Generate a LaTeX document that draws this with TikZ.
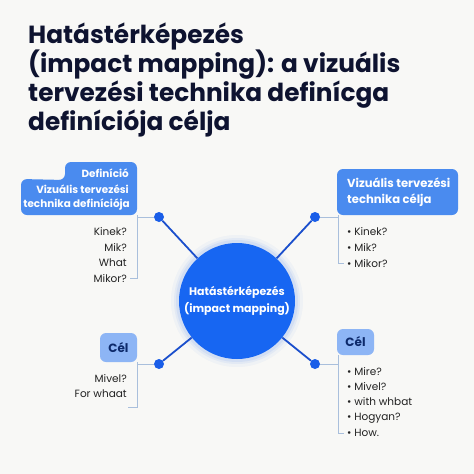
\documentclass[tikz,border=0pt]{standalone}
\usepackage{fontspec}
\setmainfont{Poppins}
\definecolor{bgc}{HTML}{F8F8F6}
\definecolor{titlec}{HTML}{0E1330}
\definecolor{hubblue}{HTML}{1766F2}
\definecolor{boxblue}{HTML}{4A8BEF}
\definecolor{lightbox}{HTML}{8DB5F5}
\definecolor{navy}{HTML}{0D2A6B}
\definecolor{dotblue}{HTML}{1A5EE8}
\definecolor{linkblue}{HTML}{1B4FCC}
\definecolor{thin}{HTML}{A9BFDC}
\definecolor{itemc}{HTML}{222222}
\begin{document}
\begin{tikzpicture}[x=1pt,y=-1pt,
  titletext/.style={anchor=base west, inner sep=0, text=titlec, font=\fontsize{24.8}{29}\selectfont\bfseries},
  boxtext/.style={inner sep=0, text=white, font=\fontsize{10.4}{13}\selectfont\bfseries},
  itemtext/.style={inner sep=0, text=itemc, font=\fontsize{10.5}{13}\selectfont},
  dotnode/.style={circle, fill=dotblue, minimum size=10pt, inner sep=0},
  hubline/.style={draw=linkblue, line width=1.8pt},
  thinline/.style={draw=thin, line width=1pt},
]
\useasboundingbox (0,0) rectangle (474,474);
\fill[bgc] (0,0) rectangle (474,474);

% title
\node[titletext] (t1) at (28,43) {Hatástérképezés};
\node[titletext] (t2) at (28,72) {(impact mapping): a vizuális};
\node[titletext] (t3) at (28,101) {tervezési technika definícga};
\node[titletext] (t4) at (28,130) {definíciója célja};

% hub glow
\foreach \r/\o in {66/0.04,63/0.06,61/0.08}{
  \fill[hubblue, opacity=\o] (237,301) circle (\r);
}
% hub
\node[circle, fill=hubblue, minimum size=116pt, inner sep=0, text=white, align=center,
  font=\fontsize{11}{16.5}\selectfont\bfseries] (hub) at (237,301) {Hatástérképezés\\(impact mapping)};

% dots
\node[dotnode] (dtl) at (159,217) {};
\node[dotnode] (dtr) at (315,217) {};
\node[dotnode] (dbl) at (159,364) {};
\node[dotnode] (dbr) at (315,364) {};

% boxes
\fill[boxblue, rounded corners=6pt] (65,180) -- (65,162) -- (137,162) -- (137,215) -- (21,215) -- (21,179) -- cycle;
\fill[boxblue, rounded corners=6pt] (337,169) rectangle (458,215);
\fill[lightbox, rounded corners=6pt] (100,333) rectangle (137,362);
\fill[lightbox, rounded corners=6pt] (337,329) rectangle (374,355);

% box texts
\node[boxtext, anchor=base east] (btl1) at (129,177) {Definíció};
\node[boxtext, anchor=base east] (btl2) at (129,193) {Vizuális tervezési};
\node[boxtext, anchor=base east] (btl3) at (130,207) {technika definíciója};
\node[boxtext, anchor=base west, font=\fontsize{11.6}{13}\selectfont\bfseries] (btr1) at (347,187) {Vizuális tervezési};
\node[boxtext, anchor=base west, font=\fontsize{11.6}{13}\selectfont\bfseries] (btr2) at (347,203) {technika célja};
\node[inner sep=0, text=navy, font=\fontsize{12}{14}\selectfont\bfseries] (bbl) at (118.5,347.5) {Cél};
\node[inner sep=0, text=navy, font=\fontsize{12}{14}\selectfont\bfseries] (bbr) at (355.5,342) {Cél};

% connector anchors on boxes
\coordinate (ctl) at (137,217);
\coordinate (ctr) at (338,217);
\coordinate (cbl) at (137,364);
\coordinate (cbr) at (338,364);
\coordinate (vtl0) at (137,215); \coordinate (vtl1) at (137,278); \coordinate (vtl2) at (130,278);
\coordinate (vtr0) at (338,215); \coordinate (vtr1) at (338,263); \coordinate (vtr2) at (344,263);
\coordinate (vbl0) at (137,362); \coordinate (vbl1) at (137,407); \coordinate (vbl2) at (128,407);
\coordinate (vbr0) at (338,355); \coordinate (vbr1) at (338,433); \coordinate (vbr2) at (344,433);

\draw[thinline] (vtl0) -- (vtl1) -- (vtl2);
\draw[thinline] (vtr0) -- (vtr1) -- (vtr2);
\draw[thinline] (vbl0) -- (vbl1) -- (vbl2);
\draw[thinline] (vbr0) -- (vbr1) -- (vbr2);
\draw[thinline] (dtl) -- (ctl);
\draw[thinline] (dtr) -- (ctr);
\draw[thinline] (dbl) -- (cbl);
\draw[thinline] (dbr) -- (cbr);

\draw[hubline] (hub) -- (dtl);
\draw[hubline] (hub) -- (dtr);
\draw[hubline] (hub) -- (dbl);
\draw[hubline] (hub) -- (dbr);

% items
\node[itemtext, anchor=base east] (i1) at (127,235) {Kinek?};
\node[itemtext, anchor=base east] (i2) at (127,251) {Mik?};
\node[itemtext, anchor=base east] (i3) at (127,266) {What};
\node[itemtext, anchor=base east] (i4) at (127,282) {Mikor?};

\node[itemtext, anchor=base west] (r1) at (347,235) {\textbullet\ Kinek?};
\node[itemtext, anchor=base west] (r2) at (347,251) {\textbullet\ Mik?};
\node[itemtext, anchor=base west] (r3) at (347,267) {\textbullet\ Mikor?};

\node[itemtext, anchor=base east] (l1) at (127,382) {Mivel?};
\node[itemtext, anchor=base east] (l2) at (127,397) {For whaat};

\node[itemtext, anchor=base west] (b1) at (347,375) {\textbullet\ Mire?};
\node[itemtext, anchor=base west] (b2) at (347,390) {\textbullet\ Mivel?};
\node[itemtext, anchor=base west] (b3) at (347,405) {\textbullet\ with whbat};
\node[itemtext, anchor=base west] (b4) at (347,420) {\textbullet\ Hogyan?};
\node[itemtext, anchor=base west] (b5) at (347,436) {\textbullet\ How.};
\end{tikzpicture}
\end{document}
